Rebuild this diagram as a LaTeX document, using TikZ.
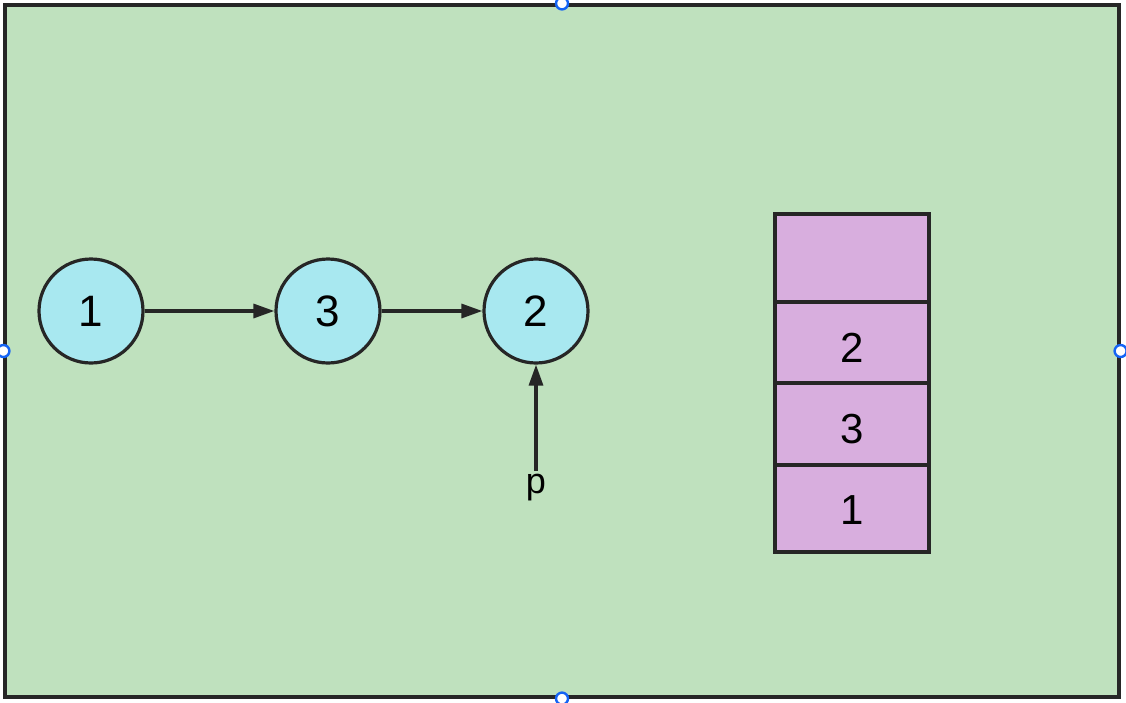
\documentclass[tikz,border=0pt]{standalone}
\usepackage{fontspec}
\setsansfont{Liberation Sans}
\usetikzlibrary{arrows.meta, positioning}
\definecolor{cboard}{RGB}{191,225,190}
\definecolor{cnode}{RGB}{168,232,240}
\definecolor{cstack}{RGB}{216,174,222}
\definecolor{cline}{RGB}{38,38,38}
\definecolor{chandle}{RGB}{20,100,245}
\tikzset{
  every picture/.style={font=\sffamily},
  board/.style={draw=cline, fill=cboard, line width=3.2pt, minimum width=1114pt, minimum height=692pt, inner sep=0pt},
  listnode/.style={circle, draw=cline, fill=cnode, line width=3.2pt, minimum size=104pt, inner sep=0pt, font=\sffamily\fontsize{44}{48}\selectfont},
  cell/.style={draw=cline, fill=cstack, line width=3.2pt, minimum width=154pt, inner sep=0pt, text depth=0pt, font=\sffamily\fontsize{42}{46}\selectfont},
  link/.style={-{Triangle[length=21pt, width=14pt]}, draw=cline, line width=3.2pt},
  handle/.style={circle, draw=chandle, fill=white, line width=2.4pt, minimum size=12pt, inner sep=0pt},
}

\begin{document}
\begin{tikzpicture}[x=1pt, y=-1pt]
  \useasboundingbox (0,0) rectangle (1126,702);
  \fill[white] (0,0) rectangle (1126,702);
  \node[board] (board) at (562,351) {};

  % linked list
  \node[listnode] (n1) at (91,311) {1};
  \node[listnode] (n3) at (328,311) {3};
  \node[listnode] (n2) at (536,311) {2};
  \draw[link] (n1) -- (n3);
  \draw[link] (n3) -- (n2);

  % pointer p
  \coordinate (ptail) at (536,471);
  \draw[link] (ptail) -- (n2);
  \node[font=\sffamily\fontsize{36}{40}\selectfont, anchor=north, inner sep=0pt] (p) at (536,474) {p};

  % stack
  \foreach \nm/\txt/\cy/\h/\th in {s0//258/88/30, s1/2/342.5/81/40, s2/3/424/82/38, s3/1/508.5/87/31} {
    \node[cell, minimum height=\h pt, text height=\th pt] (\nm) at (852,\cy) {\txt};
  }

  % selection handles
  \foreach \a in {north, south, east, west}
    \node[handle] at (board.\a) {};
\end{tikzpicture}
\end{document}
